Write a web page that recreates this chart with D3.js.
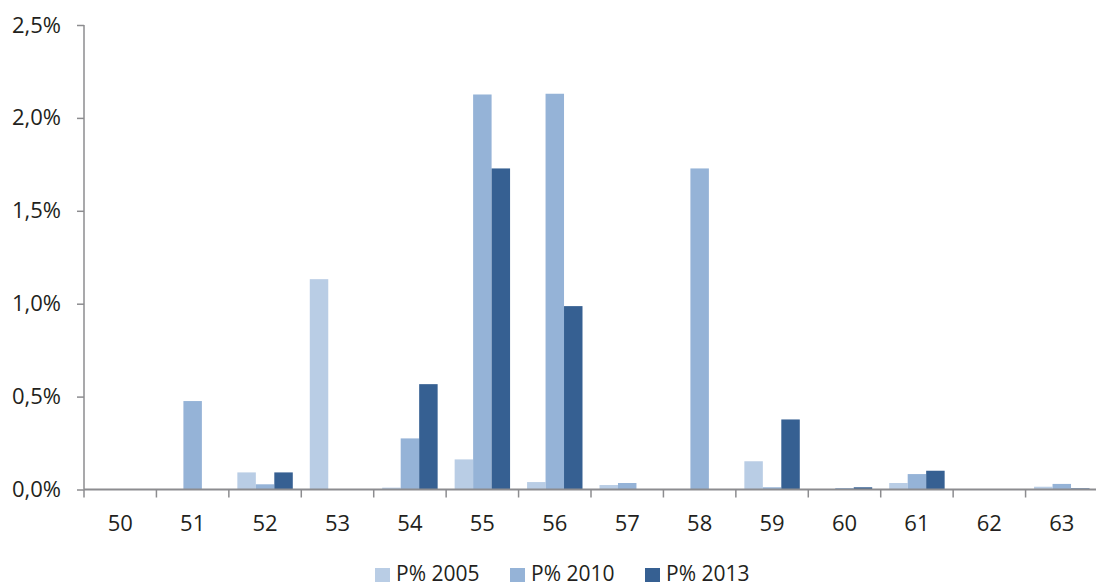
<!DOCTYPE html>
<html><head><meta charset="utf-8">
<script src="https://cdn.jsdelivr.net/npm/d3@7"></script>
<style>body{margin:0;background:#fff}svg{display:block}text{font-family:"Open Sans","Noto Sans",sans-serif;fill:#231f20}</style>
</head><body><svg id="c" width="1096" height="586"></svg>
<script>
const categories = ["50","51","52","53","54","55","56","57","58","59","60","61","62","63"];
const seriesNames = ["P% 2005","P% 2010","P% 2013"];
const p2005 = [0, 0, 0.092, 1.132, 0.010, 0.162, 0.040, 0.024, 0, 0.152, 0, 0.035, 0.002, 0.015];
const p2010 = [0, 0.476, 0.028, 0, 0.275, 2.126, 2.130, 0.035, 1.728, 0.012, 0.008, 0.083, 0.002, 0.030];
const p2013 = [0, 0, 0.092, 0, 0.567, 1.728, 0.987, 0, 0, 0.377, 0.012, 0.101, 0.002, 0.006];
const yTicks = [0, 0.5, 1.0, 1.5, 2.0, 2.5];
const colors = ["#b9cde5", "#95b3d7", "#366092"];

const svg = d3.select("#c");
const x = d3.scaleBand().domain(categories).range([84, 1098]).paddingInner(0).paddingOuter(0);
const x1 = d3.scaleBand().domain(seriesNames).range([0, x.bandwidth()]).paddingInner(0).paddingOuter(0.46);
const y = d3.scaleLinear().domain([0, 2.5]).range([489.5, 25]);
const series = [p2005, p2010, p2013];

// bars
series.forEach((vals, si) => {
  svg.append("g").selectAll("rect").data(vals).join("rect")
    .attr("x", (d, i) => x(categories[i]) + x1(seriesNames[si]))
    .attr("width", x1.bandwidth())
    .attr("y", d => y(d))
    .attr("height", d => y(0) - y(d))
    .attr("fill", colors[si]);
});

// y axis
const yAxis = d3.axisLeft(y).tickValues(yTicks).tickSize(7).tickPadding(16)
  .tickFormat(d => d3.format(".1f")(d).replace(".", ",") + "%");
const gy = svg.append("g").attr("transform", "translate(84,0)").call(yAxis);
gy.selectAll("line,path").attr("stroke", "#8c8c8f").attr("stroke-width", 1.5);
gy.select(".domain").attr("d", "M0,25V489.5");
gy.selectAll("text").attr("font-size", 22).attr("fill", "#231f20");

// x axis
const gx = svg.append("g").attr("transform", "translate(0,489.5)");
gx.append("line").attr("x1", 84).attr("x2", 1098).attr("stroke", "#8c8c8f").attr("stroke-width", 2);
const bounds = categories.map(c => x(c)).concat([x.range()[1]]);
gx.selectAll("line.t").data(bounds).join("line").attr("class", "t")
  .attr("x1", d => d).attr("x2", d => d).attr("y1", 0).attr("y2", 8)
  .attr("stroke", "#8c8c8f").attr("stroke-width", 1.5);
gx.selectAll("text").data(categories).join("text")
  .attr("x", d => x(d) + x.bandwidth() / 2).attr("y", 41)
  .attr("text-anchor", "middle").attr("font-size", 22).text(d => d);

// legend
const legX = [375, 510, 645];
const leg = svg.append("g");
seriesNames.forEach((s, i) => {
  leg.append("rect").attr("x", legX[i]).attr("y", 568).attr("width", 15).attr("height", 14).attr("fill", colors[i]);
  leg.append("text").attr("x", legX[i] + 21).attr("y", 580.5).attr("font-size", 21).text(s);
});
</script></body></html>
